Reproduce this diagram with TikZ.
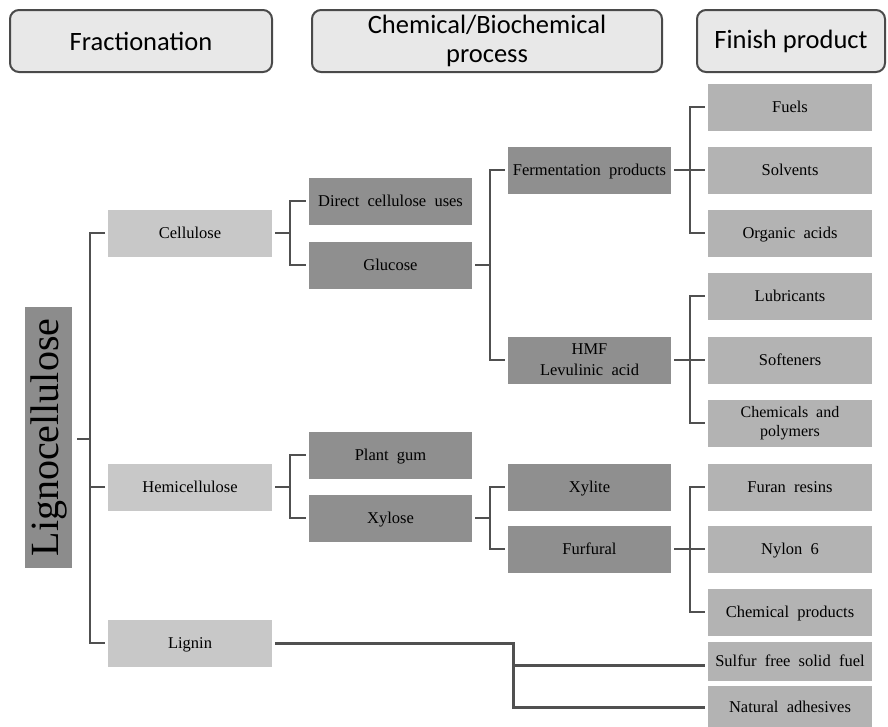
\documentclass[tikz,border=0pt]{standalone}
\usepackage{fontspec}
\setmainfont{Liberation Serif}[WordSpace=2]
\newfontfamily\headfont{Carlito}
\usetikzlibrary{calc}
\definecolor{hdrfill}{HTML}{E8E8E8}
\definecolor{hdrline}{HTML}{4A4A4A}
\definecolor{lignofill}{HTML}{8C8C8C}
\definecolor{lonefill}{HTML}{C8C8C8}
\definecolor{ltwofill}{HTML}{8F8F8F}
\definecolor{finfill}{HTML}{B3B3B3}
\definecolor{linec}{HTML}{505050}
\begin{document}
\begin{tikzpicture}[x=1pt,y=-1pt,
  conn/.style={draw=linec, line width=2.5pt},
  hdr/.style={draw=hdrline, line width=2pt, fill=hdrfill, rounded corners=9pt,
    font=\headfont\fontsize{26.5}{29}\selectfont, align=center, inner sep=0pt,
    minimum height=62pt},
  box/.style={inner sep=0pt, outer sep=3pt, minimum width=164pt,
    minimum height=47pt, align=center, text height=12pt, text depth=2pt,
    font=\fontsize{16.5}{21}\selectfont},
  twoline/.style={text height=, text depth=},
  lone/.style={box, fill=lonefill},
  ltwo/.style={box, fill=ltwofill, minimum width=163pt},
  fin/.style={box, fill=finfill}]
\useasboundingbox (0,0) rectangle (888,726);
% headers
\node[hdr, minimum width=262pt] (h1) at (141,41) {Fractionation};
\node[hdr, minimum width=350pt] (h2) at (487,41) {Chemical/Biochemical\\process};
\node[hdr, minimum width=188pt] (h3) at (791,41) {Finish product};
% root
\node[rotate=90, fill=lignofill, minimum width=261pt, minimum height=47pt,
  inner sep=0pt, outer sep=5pt, font=\fontsize{40}{42}\selectfont] (ligno) at (48.5,437.5) {Lignocellulose};
% level 1
\node[lone] (cel) at (190,233) {Cellulose};
\node[lone] (hemi) at (190,487) {Hemicellulose};
\node[lone] (lig) at (190,643) {Lignin};
% level 2 col A
\node[ltwo] (dcu) at (390.5,201) {Direct cellulose uses};
\node[ltwo] (glu) at (390.5,265) {Glucose};
\node[ltwo] (gum) at (390.5,455) {Plant gum};
\node[ltwo] (xyl) at (390.5,518) {Xylose};
% level 2 col B
\node[ltwo] (fer) at (589.5,170) {Fermentation products};
\node[ltwo, twoline] (hmf) at (589.5,360) {HMF\\Levulinic acid};
\node[ltwo] (xyt) at (589.5,487) {Xylite};
\node[ltwo] (fur) at (589.5,549) {Furfural};
% finish
\node[fin] (fuel) at (790,107) {Fuels};
\node[fin] (solv) at (790,170) {Solvents};
\node[fin] (orga) at (790,233) {Organic acids};
\node[fin] (lubr) at (790,296) {Lubricants};
\node[fin] (soft) at (790,360) {Softeners};
\node[fin, twoline, font=\fontsize{16}{19}\selectfont] (chpo) at (790,423) {Chemicals and\\polymers};
\node[fin] (fura) at (790,487) {Furan resins};
\node[fin] (nylo) at (790,549) {Nylon 6};
\node[fin] (chpr) at (790,612) {Chemical products};
\node[fin, minimum height=39pt] (sulf) at (790,661.5) {Sulfur free solid fuel};
\node[fin, minimum height=42pt] (natu) at (790,707) {Natural adhesives};
% trunk
\coordinate (tk) at (90,439);
\draw[conn] (ligno.south |- tk) -- (tk);
\draw[conn] (cel.west) -| (tk) |- (lig.west);
\draw[conn] (hemi.west) -- (hemi.west -| tk);
% cellulose
\draw[conn] (cel.east) -- ++(15,0) |- (dcu.west);
\draw[conn] (cel.east) -- ++(15,0) |- (glu.west);
\draw[conn] (glu.east) -- ++(15,0) |- (fer.west);
\draw[conn] (glu.east) -- ++(15,0) |- (hmf.west);
\draw[conn] (fer.east) -- ++(16,0) |- (fuel.west);
\draw[conn] (fer.east) -- ++(16,0) |- (solv.west);
\draw[conn] (fer.east) -- ++(16,0) |- (orga.west);
\draw[conn] (hmf.east) -- ++(16,0) |- (lubr.west);
\draw[conn] (hmf.east) -- ++(16,0) |- (soft.west);
\draw[conn] (hmf.east) -- ++(16,0) |- (chpo.west);
% hemicellulose
\draw[conn] (hemi.east) -- ++(15,0) |- (gum.west);
\draw[conn] (hemi.east) -- ++(15,0) |- (xyl.west);
\draw[conn] (xyl.east) -- ++(15,0) |- (xyt.west);
\draw[conn] (xyl.east) -- ++(15,0) |- (fur.west);
\draw[conn] (fur.east) -- ++(16,0) |- (fura.west);
\draw[conn] (fur.east) -- ++(16,0) |- (nylo.west);
\draw[conn] (fur.east) -- ++(16,0) |- (chpr.west);
% lignin
\draw[conn, line width=3pt] (lig.east) -- ++(238,0) coordinate (lsp) |- ($(sulf.west)+(0,3.5)$);
\draw[conn, line width=3pt] (lsp) |- (natu.west);
\end{tikzpicture}
\end{document}
